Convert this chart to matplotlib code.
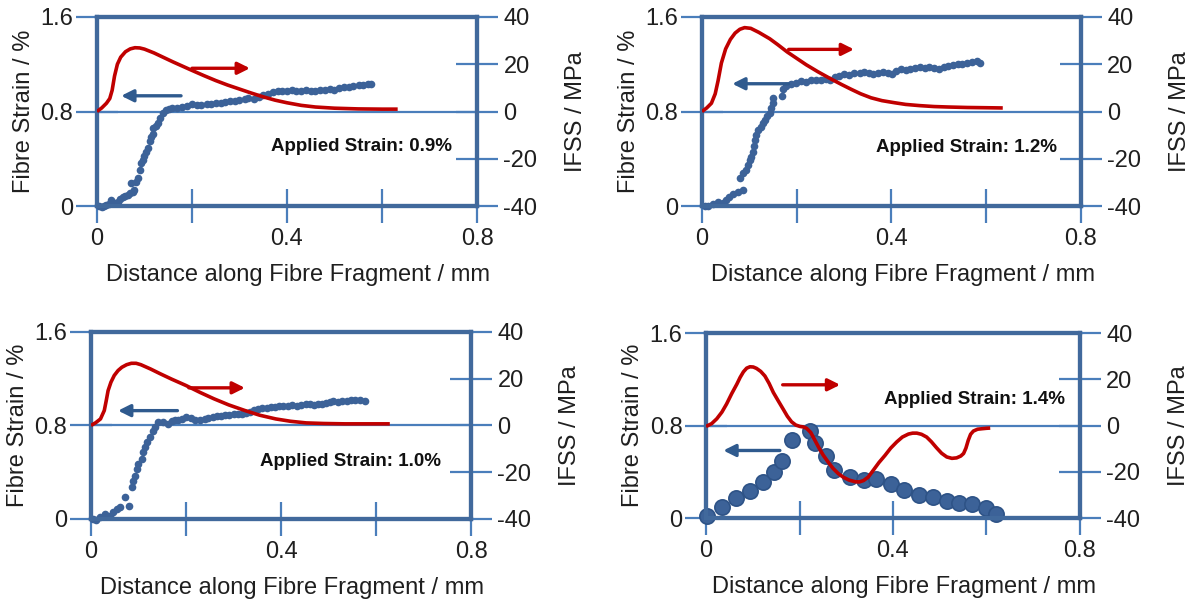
import matplotlib
matplotlib.use('Agg')
import matplotlib.pyplot as plt

plt.rcParams['font.family'] = ['Liberation Sans', 'DejaVu Sans']

# ---------------- data ----------------
# Panel 1 : applied strain 0.9 %
p1_dist = [0.004, 0.010, 0.015, 0.019, 0.025, 0.030, 0.037, 0.044, 0.049, 0.054, 0.060, 0.065,
           0.070, 0.075, 0.079, 0.072, 0.083, 0.086, 0.090, 0.093, 0.096, 0.100, 0.104, 0.107,
           0.111, 0.114, 0.118, 0.119, 0.124, 0.128, 0.132, 0.139, 0.146,
           0.151, 0.158, 0.169, 0.178, 0.189, 0.200, 0.211, 0.220, 0.231, 0.240, 0.250, 0.261,
           0.270, 0.281, 0.290, 0.300, 0.311, 0.319, 0.330, 0.341, 0.350, 0.361, 0.370, 0.381,
           0.390, 0.399, 0.411, 0.420, 0.430, 0.441, 0.450, 0.460, 0.469, 0.480, 0.490, 0.499,
           0.510, 0.521, 0.530, 0.540, 0.551, 0.560, 0.570, 0.577]
p1_strain = [0.000, -0.008, 0.000, 0.009, 0.020, 0.048, 0.023, 0.037, 0.060, 0.080, 0.085, 0.094,
             0.110, 0.122, 0.137, 0.194, 0.200, 0.236, 0.307, 0.364, 0.390, 0.421, 0.460, 0.493,
             0.549, 0.580, 0.606, 0.663, 0.680, 0.706, 0.749, 0.791, 0.814,
             0.820, 0.830, 0.826, 0.835, 0.848, 0.860, 0.856, 0.852, 0.863, 0.866, 0.868, 0.874,
             0.878, 0.885, 0.890, 0.900, 0.906, 0.912, 0.905, 0.925, 0.940, 0.952, 0.962, 0.972,
             0.970, 0.975, 0.978, 0.972, 0.975, 0.980, 0.976, 0.974, 0.980, 0.986, 0.990, 0.985,
             1.000, 1.005, 1.010, 1.015, 1.025, 1.022, 1.035, 1.030]
p1_ifss_dist = [0, 0.01, 0.02, 0.027, 0.032, 0.037, 0.043, 0.05, 0.06, 0.07, 0.08, 0.09, 0.10,
                0.12, 0.14, 0.16, 0.18, 0.20, 0.225, 0.25, 0.275, 0.30, 0.325, 0.35, 0.375,
                0.40, 0.43, 0.46, 0.50, 0.55, 0.60, 0.633]
p1_ifss = [0, 1.5, 3.5, 5.5, 9.0, 15.0, 20.0, 23.0, 25.3, 26.5, 27.0, 26.9, 26.4,
           24.8, 22.9, 21.0, 19.2, 17.4, 15.2, 13.1, 11.2, 9.5, 7.8, 6.2, 4.8,
           3.7, 2.6, 1.9, 1.4, 1.1, 1.0, 1.0]

# Panel 2 : applied strain 1.2 %
p2_dist = [0.006, 0.013, 0.023, 0.034, 0.044, 0.051, 0.058, 0.065, 0.076, 0.087, 0.080, 0.087,
           0.094, 0.097, 0.101, 0.104, 0.108, 0.110, 0.113, 0.115, 0.118, 0.125, 0.129, 0.134,
           0.138, 0.143, 0.146, 0.150, 0.151, 0.169, 0.171, 0.178,
           0.189, 0.199, 0.210, 0.220, 0.231, 0.241, 0.252, 0.262, 0.271, 0.280, 0.290, 0.300,
           0.310, 0.322, 0.333, 0.343, 0.353, 0.362, 0.372, 0.382, 0.392, 0.402, 0.410, 0.420,
           0.430, 0.440, 0.450, 0.460, 0.470, 0.480, 0.490, 0.500, 0.510, 0.520, 0.530, 0.540,
           0.550, 0.560, 0.570, 0.580, 0.586]
p2_strain = [0.000, -0.003, 0.020, 0.034, 0.026, 0.048, 0.077, 0.100, 0.120, 0.134, 0.233, 0.276,
             0.305, 0.347, 0.390, 0.419, 0.461, 0.504, 0.561, 0.604, 0.646, 0.669, 0.703, 0.732,
             0.760, 0.789, 0.831, 0.874, 0.917, 0.931, 0.988, 1.016,
             1.036, 1.045, 1.059, 1.053, 1.065, 1.070, 1.068, 1.073, 1.068, 1.088, 1.100, 1.116,
             1.110, 1.125, 1.130, 1.136, 1.126, 1.120, 1.130, 1.135, 1.128, 1.120, 1.140, 1.159,
             1.155, 1.160, 1.170, 1.173, 1.168, 1.173, 1.165, 1.160, 1.178, 1.188, 1.190, 1.200,
             1.205, 1.212, 1.220, 1.225, 1.210]
p2_ifss_dist = [0, 0.01, 0.02, 0.028, 0.034, 0.041, 0.05, 0.06, 0.07, 0.08, 0.09, 0.103, 0.12,
                0.143, 0.16, 0.18, 0.20, 0.22, 0.245, 0.273, 0.295, 0.315, 0.335, 0.357, 0.38,
                0.407, 0.43, 0.459, 0.49, 0.52, 0.56, 0.60, 0.635]
p2_ifss = [0, 1.5, 3.5, 7.5, 13.0, 20.5, 26.5, 30.5, 33.2, 34.8, 35.5, 35.2, 33.5,
           30.8, 28.3, 25.2, 22.5, 19.8, 16.8, 13.7, 11.4, 9.4, 7.5, 5.8, 4.6,
           3.7, 3.0, 2.5, 2.1, 1.9, 1.7, 1.6, 1.5]

# Panel 3 : applied strain 1.0 %
p3_dist = [0.004, 0.010, 0.019, 0.029, 0.040, 0.047, 0.054, 0.061, 0.079, 0.072, 0.086, 0.089,
           0.093, 0.096, 0.100, 0.107, 0.110, 0.114, 0.117, 0.124, 0.131, 0.135, 0.142,
           0.152, 0.163, 0.170, 0.177, 0.184, 0.191, 0.201, 0.210, 0.219, 0.230, 0.239, 0.247,
           0.256, 0.265, 0.274, 0.282, 0.291, 0.300, 0.309, 0.317, 0.326, 0.335, 0.343, 0.352,
           0.361, 0.370, 0.379, 0.387, 0.395, 0.405, 0.414, 0.424, 0.433, 0.443, 0.452, 0.461,
           0.470, 0.478, 0.486, 0.495, 0.503, 0.510, 0.520, 0.529, 0.538, 0.547, 0.556, 0.566,
           0.577]
p3_strain = [0.000, -0.010, 0.014, 0.043, 0.029, 0.057, 0.086, 0.100, 0.114, 0.186, 0.271, 0.329,
             0.371, 0.429, 0.471, 0.514, 0.571, 0.614, 0.657, 0.700, 0.757, 0.786, 0.829,
             0.829, 0.814, 0.840, 0.849, 0.850, 0.857, 0.871, 0.860, 0.843, 0.849, 0.858, 0.866,
             0.872, 0.880, 0.884, 0.886, 0.893, 0.900, 0.898, 0.900, 0.908, 0.914, 0.930, 0.943,
             0.948, 0.951, 0.962, 0.957, 0.965, 0.969, 0.965, 0.972, 0.969, 0.975, 0.980, 0.983,
             0.978, 0.985, 0.983, 0.995, 1.000, 1.006, 1.000, 1.010, 1.012, 1.015, 1.020, 1.018,
             1.012]
p3_ifss_dist = [0, 0.01, 0.02, 0.028, 0.032, 0.036, 0.042, 0.049, 0.057, 0.065, 0.075, 0.085,
                0.095, 0.105, 0.125, 0.146, 0.17, 0.20, 0.23, 0.259, 0.29, 0.324, 0.355, 0.389,
                0.42, 0.453, 0.49, 0.534, 0.58, 0.629]
p3_ifss = [0, 1.2, 2.8, 6.4, 10.5, 14.9, 18.5, 21.4, 23.5, 24.9, 26.0, 26.6,
           26.6, 26.0, 24.2, 22.1, 19.8, 17.1, 14.1, 11.4, 8.8, 6.4, 4.4, 2.8,
           1.8, 1.1, 0.85, 0.7, 0.7, 0.7]

# Panel 4 : applied strain 1.4 %
p4_dist = [0.003, 0.034, 0.064, 0.094, 0.121, 0.145, 0.162, 0.185, 0.222, 0.233, 0.257, 0.274,
           0.307, 0.337, 0.364, 0.395, 0.424, 0.455, 0.486, 0.515, 0.542, 0.570, 0.599, 0.620]
p4_strain = [0.015, 0.095, 0.172, 0.231, 0.311, 0.394, 0.495, 0.676, 0.756, 0.652, 0.539, 0.415,
             0.356, 0.326, 0.335, 0.296, 0.246, 0.201, 0.178, 0.148, 0.133, 0.119, 0.089, 0.036]
p4_ifss_dist = [0, 0.012, 0.023, 0.034, 0.044, 0.055, 0.066, 0.073, 0.080, 0.087, 0.094, 0.101,
                0.108, 0.117, 0.126, 0.135, 0.144, 0.155, 0.165, 0.174, 0.183, 0.192, 0.201,
                0.208, 0.215, 0.224, 0.233, 0.242, 0.251, 0.262, 0.272, 0.283, 0.294, 0.306,
                0.319, 0.328, 0.337, 0.347, 0.358, 0.370, 0.383, 0.395, 0.408, 0.420, 0.433,
                0.442, 0.451, 0.461, 0.472, 0.482, 0.493, 0.504, 0.515, 0.526, 0.536, 0.545,
                0.551, 0.556, 0.561, 0.566, 0.572, 0.581, 0.590, 0.600, 0.608]
p4_ifss = [-0.4, 0.8, 2.9, 5.8, 9.3, 13.8, 17.9, 20.8, 23.2, 24.8, 25.4, 25.3,
           24.7, 23.4, 21.4, 18.2, 14.3, 10.5, 7.1, 4.0, 1.6, 0.2, -0.4,
           -0.6, -1.2, -3.0, -6.4, -9.8, -12.9, -16.0, -18.6, -20.8, -22.4, -23.6,
           -24.3, -24.4, -23.8, -22.3, -19.3, -16.0, -12.9, -9.8, -7.1, -5.0, -3.7,
           -3.3, -3.3, -3.8, -5.0, -7.0, -9.6, -12.0, -13.6, -14.2, -14.0, -13.2,
           -12.1, -9.8, -6.4, -3.8, -2.4, -1.6, -1.4, -1.2, -1.1]

labels = ['Applied Strain: 0.9%', 'Applied Strain: 1.2%',
          'Applied Strain: 1.0%', 'Applied Strain: 1.4%']
x_ticks = [0, 0.2, 0.4, 0.6, 0.8]
x_ticklabels = ['0', '', '0.4', '', '0.8']
left_ticks = [0, 0.8, 1.6]
left_ticklabels = ['0', '0.8', '1.6']
right_ticks = [-40, -20, 0, 20, 40]

# ---------------- style ----------------
SPINE = '#41699C'
TICK = '#4A7EBB'
RED = '#C00000'
BLUE = '#3C6298'
TXT = '#1f1f1f'
FS = 17

fig = plt.figure(figsize=(11.94, 6.07), dpi=100)


def panel(rect, xs, ys, xr, yr, label, lab_pos, red_arr, blue_arr, ms=5.5):
    ax = fig.add_axes(rect)
    tw = ax.twinx()
    ax.set_xlim(0, 0.8)
    ax.set_ylim(0, 1.6)
    tw.set_ylim(-40, 40)
    ax.axhline(0.8, color=TICK, lw=1.6, zorder=1)
    if ms > 6:
        ax.plot(xs, ys, 'o', ms=ms, color=BLUE, mec='#2E5387', mew=1.2,
                zorder=3, clip_on=False)
    else:
        ax.plot(xs, ys, 'o', ms=ms, color=BLUE, mew=0, zorder=3, clip_on=False)
    tw.plot(xr, yr, color=RED, lw=2.6, zorder=4, solid_capstyle='butt',
            solid_joinstyle='round')
    # arrows
    tw.annotate('', xy=(red_arr[1], red_arr[2]), xytext=(red_arr[0], red_arr[2]),
                arrowprops=dict(arrowstyle='-|>', color=RED, lw=2.4,
                                mutation_scale=18, shrinkA=0, shrinkB=0))
    ax.annotate('', xy=(blue_arr[1], blue_arr[2]), xytext=(blue_arr[0], blue_arr[2]),
                arrowprops=dict(arrowstyle='-|>', color='#2F5A8E', lw=2.4,
                                mutation_scale=18, shrinkA=0, shrinkB=0))
    ax.text(lab_pos[0], lab_pos[1], label, ha='right', va='center',
            fontsize=13.5, fontweight='bold', color='#111111', zorder=5)
    # ticks
    ax.set_xticks(x_ticks)
    ax.set_xticklabels(x_ticklabels)
    ax.set_yticks(left_ticks)
    ax.set_yticklabels(left_ticklabels)
    tw.set_yticks(right_ticks)
    tw.set_yticklabels([str(v) for v in right_ticks])
    ax.tick_params(axis='x', direction='inout', length=24, width=1.6, color=TICK,
                   labelsize=FS, labelcolor=TXT, pad=4)
    ax.tick_params(axis='y', direction='inout', length=30, width=1.6, color=TICK,
                   labelsize=FS, labelcolor=TXT, pad=2)
    tw.tick_params(axis='y', direction='inout', length=30, width=1.6, color=TICK,
                   labelsize=FS, labelcolor=TXT, pad=4)
    for a in (ax, tw):
        for s in a.spines.values():
            s.set_color(SPINE)
            s.set_linewidth(3.0)
    ax.set_xlabel('Distance along Fibre Fragment / mm', fontsize=FS, color=TXT, labelpad=10)
    ax.set_ylabel('Fibre Strain / %', fontsize=FS, color=TXT, labelpad=4)
    tw.set_ylabel('IFSS / MPa', fontsize=FS, color=TXT, labelpad=20)
    ax.xaxis.label.set_x(0.53)
    return ax, tw


panel([0.0812, 0.6606, 0.3183, 0.3114], p1_dist, p1_strain, p1_ifss_dist, p1_ifss,
      labels[0], (0.747, 0.505), (0.200, 0.322, 18.3), (0.177, 0.051, 0.933))
panel([0.5879, 0.6606, 0.3174, 0.3114], p2_dist, p2_strain, p2_ifss_dist, p2_ifss,
      labels[1], (0.749, 0.496), (0.183, 0.321, 26.3), (0.183, 0.064, 1.035))
panel([0.0762, 0.1450, 0.3183, 0.3081], p3_dist, p3_strain, p3_ifss_dist, p3_ifss,
      labels[2], (0.737, 0.489), (0.206, 0.324, 16.1), (0.182, 0.057, 0.927))
panel([0.5913, 0.1466, 0.3132, 0.3048], p4_dist, p4_strain, p4_ifss_dist, p4_ifss,
      labels[3], (0.768, 1.028), (0.164, 0.287, 17.6), (0.158, 0.037, 0.584), ms=11)

fig.savefig('out.png', dpi=100)
